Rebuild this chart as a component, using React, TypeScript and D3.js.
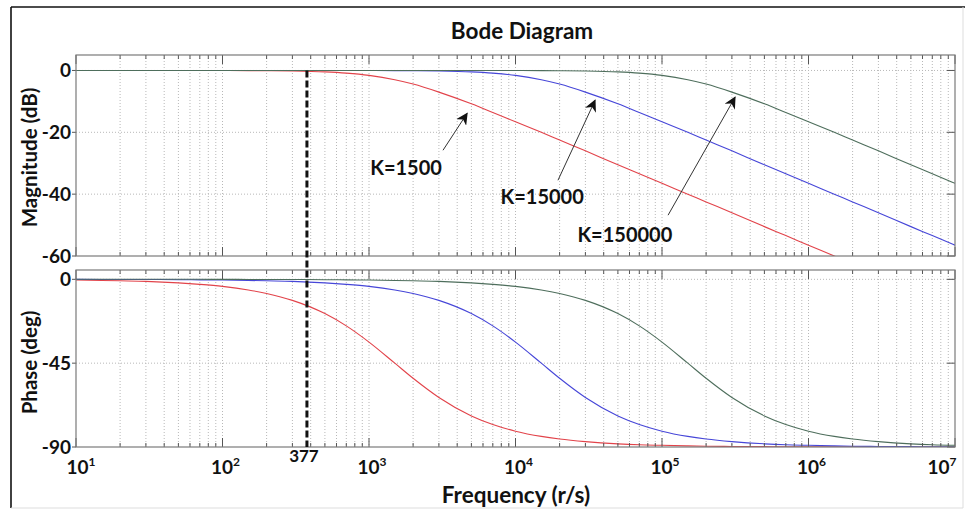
import React from "react";
import * as d3 from "d3";

const frequencies = [10,15,20,30,50,70,100,150,200,300,500,700,1000,1500,2000,3000,5000,7000,10000,15000,20000,30000,50000,70000,100000,150000,200000,300000,500000,700000,1000000,1500000,2000000,3000000,5000000,7000000,10000000];

const magK1500 = [0,0,0,0,0,-0.01, -0.02,-0.04,-0.08,-0.17,-0.46,-0.87, -1.6,-3.0,-4.4,-7.0,-10.8,-13.6, -16.6,-20.0,-22.5,-26.0,-30.5,-33.4, -36.5,-40.0,-42.5,-46.0,-50.5,-53.4, -56.5,-60.0,-62.5,-66.0,-70.5,-73.4, -76.5];
const magK15000 = [0,0,0,0,0,0, 0,0,0,0,0,-0.01, -0.02,-0.04,-0.08,-0.17,-0.46,-0.87, -1.6,-3.0,-4.4,-7.0,-10.8,-13.6, -16.6,-20.0,-22.5,-26.0,-30.5,-33.4, -36.5,-40.0,-42.5,-46.0,-50.5,-53.4, -56.5];
const magK150000 = [0,0,0,0,0,0, 0,0,0,0,0,0, 0,0,0,0,0,-0.01, -0.02,-0.04,-0.08,-0.17,-0.46,-0.87, -1.6,-3.0,-4.4,-7.0,-10.8,-13.6, -16.6,-20.0,-22.5,-26.0,-30.5,-33.4, -36.5];

const phaseK1500 = [-0.4,-0.6,-0.8,-1.1,-1.9,-2.7, -3.8,-5.7,-7.6,-11.3,-18.4,-25.0, -33.7,-45.0,-53.1,-63.4,-73.3,-77.9, -81.5,-84.3,-85.7,-87.1,-88.3,-88.8, -89.1,-89.4,-89.6,-89.7,-89.8,-89.9, -89.9,-89.9,-89.9,-90,-90,-90, -90];
const phaseK15000 = [-0.04,-0.06,-0.08,-0.1,-0.2,-0.3, -0.4,-0.6,-0.8,-1.1,-1.9,-2.7, -3.8,-5.7,-7.6,-11.3,-18.4,-25.0, -33.7,-45.0,-53.1,-63.4,-73.3,-77.9, -81.5,-84.3,-85.7,-87.1,-88.3,-88.8, -89.1,-89.4,-89.6,-89.7,-89.8,-89.9, -89.9];
const phaseK150000 = [0,0,0,0,0,0, -0.04,-0.06,-0.08,-0.1,-0.2,-0.3, -0.4,-0.6,-0.8,-1.1,-1.9,-2.7, -3.8,-5.7,-7.6,-11.3,-18.4,-25.0, -33.7,-45.0,-53.1,-63.4,-73.3,-77.9, -81.5,-84.3,-85.7,-87.1,-88.3,-88.8, -89.1];

const seriesNames = ["K=1500", "K=15000", "K=150000"];
const seriesColors = ["#e2434a", "#4646d8", "#4e6e5c"];
const magSeries = [magK1500, magK15000, magK150000];
const phaseSeries = [phaseK1500, phaseK15000, phaseK150000];

const magTicks = [0, -20, -40, -60];
const phaseTicks = [0, -45, -90];
const decadeExponents = [1, 2, 3, 4, 5, 6, 7];
const markerFrequency = 377;

// annotation anchors in data units
const annotationLabelFreq = [1790, 15200, 55800];
const annotationLabelDb = [-31.6, -41, -53.2];
const annotationTailFreq = [3200, 19500, 110000];
const annotationTailDb = [-25.8, -35.5, -46.8];
const annotationTipFreq = [4670, 34900, 315000];
const annotationTipDb = [-13.9, -9.7, -8.7];

const W = 965, H = 510;
const left = 76, right = 955;
const magTop = 55, magBottom = 256;
const phTop = 270, phBottom = 447;
const FONT = "Lato, 'Open Sans', sans-serif";

export default function App() {
  const x = d3.scaleLog().domain([10, 1e7]).range([left, right]);
  const yMag = d3.scaleLinear().domain([-60, 5]).range([magBottom, magTop]);
  const yPh = d3.scaleLinear().domain([-90, 5]).range([phBottom, phTop]);

  const minorTicks: number[] = [];
  for (let e = 1; e < 7; e++) for (let m = 2; m <= 9; m++) minorTicks.push(m * Math.pow(10, e));
  const majorTicks = decadeExponents.map((e) => Math.pow(10, e));

  const makeLine = (y: d3.ScaleLinear<number, number>) =>
    d3.line<[number, number]>().x((d) => x(d[0])).y((d) => y(d[1])).curve(d3.curveMonotoneX);

  const magLine = makeLine(yMag);
  const phLine = makeLine(yPh);

  const gridStyle = { stroke: "#b8b8b8", strokeWidth: 1, strokeDasharray: "1,2" };

  const renderPanel = (
    top: number,
    bottom: number,
    y: d3.ScaleLinear<number, number>,
    yTicks: number[],
    series: number[][],
    line: d3.Line<[number, number]>,
    clipId: string
  ) => (
    <g>
      <clipPath id={clipId}>
        <rect x={left} y={top} width={right - left} height={bottom - top} />
      </clipPath>
      <rect x={left} y={top} width={right - left} height={bottom - top} fill="#fff" />
      {[...minorTicks, ...majorTicks.slice(1, -1)].map((f, i) => (
        <line key={"gx" + i} x1={x(f)} x2={x(f)} y1={top} y2={bottom} {...gridStyle} />
      ))}
      {yTicks.slice(0, -1).map((t, i) => (
        <line key={"gy" + i} x1={left} x2={right} y1={y(t)} y2={y(t)} {...gridStyle} />
      ))}
      <g clipPath={`url(#${clipId})`}>
        {series.map((vals, si) => (
          <path
            key={si}
            d={line(frequencies.map((f, i) => [f, vals[i]] as [number, number])) || ""}
            fill="none"
            stroke={seriesColors[si]}
            strokeWidth={1.1}
          />
        ))}
      </g>
      {minorTicks.map((f, i) => (
        <g key={"mt" + i}>
          <line x1={x(f)} x2={x(f)} y1={top} y2={top + 4} stroke="#555" />
          <line x1={x(f)} x2={x(f)} y1={bottom} y2={bottom - 4} stroke="#555" />
        </g>
      ))}
      {majorTicks.map((f, i) => (
        <g key={"Mt" + i}>
          <line x1={x(f)} x2={x(f)} y1={top} y2={top + 9} stroke="#555" />
          <line x1={x(f)} x2={x(f)} y1={bottom} y2={bottom - 9} stroke="#555" />
        </g>
      ))}
      {yTicks.map((t, i) => (
        <g key={"yt" + i}>
          <line x1={left - 4} x2={left} y1={y(t)} y2={y(t)} stroke="#555" />
          <line x1={right} x2={right - 8} y1={y(t)} y2={y(t)} stroke="#555" />
          <text
            x={left - 5}
            y={y(t)}
            dy="0.36em"
            textAnchor="end"
            fontFamily={FONT}
            fontWeight="bold"
            fontSize={19}
            fill="#111"
          >
            {t}
          </text>
        </g>
      ))}
      <rect x={left} y={top} width={right - left} height={bottom - top} fill="none" stroke="#7a7a7a" strokeWidth={1.2} />
    </g>
  );

  const xLabelPos = (e: number) => {
    const px = x(Math.pow(10, e));
    if (e === decadeExponents[decadeExponents.length - 1]) return px - 13;
    if (e === decadeExponents[0]) return px + 5;
    return px + 3;
  };

  return (
    <svg
      width={W}
      height={H}
      style={{ position: "absolute", left: 0, top: 0, background: "#fff" }}
    >
      <defs>
        <marker id="arrowhead" viewBox="0 0 10 10" refX="9" refY="5" markerWidth="12" markerHeight="12" orient="auto" markerUnits="userSpaceOnUse">
          <path d="M0,0 L10,5 L0,10 L3,5 Z" fill="#111" />
        </marker>
      </defs>
      <rect x={0} y={0} width={W} height={H} fill="#fff" />
      {/* outer frame */}
      <line x1={11} x2={965} y1={7} y2={7} stroke="#111" strokeWidth={1.6} />
      <line x1={11} x2={11} y1={7} y2={508} stroke="#111" strokeWidth={1.6} />
      <line x1={963} x2={963} y1={7} y2={508} stroke="#ddd" strokeWidth={1} />
      <line x1={11} x2={963} y1={508} y2={508} stroke="#ddd" strokeWidth={1} />

      <text x={522} y={39} textAnchor="middle" fontFamily={FONT} fontWeight="bold" fontSize={22.5} fill="#111">
        Bode Diagram
      </text>

      {renderPanel(magTop, magBottom, yMag, magTicks, magSeries, magLine, "clipMag")}
      {renderPanel(phTop, phBottom, yPh, phaseTicks, phaseSeries, phLine, "clipPh")}

      {/* Y axis titles */}
      <text
        transform={`translate(37,${(magTop + magBottom) / 2 + 2}) rotate(-90)`}
        textAnchor="middle"
        fontFamily={FONT}
        fontWeight="bold"
        fontSize={20.5}
        fill="#111"
      >
        Magnitude (dB)
      </text>
      <text
        transform={`translate(37,${(phTop + phBottom) / 2 + 4}) rotate(-90)`}
        textAnchor="middle"
        fontFamily={FONT}
        fontWeight="bold"
        fontSize={20.5}
        fill="#111"
      >
        Phase (deg)
      </text>

      {/* marker line at 377 */}
      <line
        x1={x(markerFrequency)}
        x2={x(markerFrequency)}
        y1={yMag(0)}
        y2={phBottom}
        stroke="#111"
        strokeWidth={3}
        strokeDasharray="7,3"
      />
      <text x={x(markerFrequency) - 3} y={462} textAnchor="middle" fontFamily={FONT} fontWeight="bold" fontSize={17} fill="#111">
        {markerFrequency}
      </text>

      {/* x tick labels */}
      {decadeExponents.map((e) => (
        <text
          key={"xl" + e}
          x={xLabelPos(e)}
          y={474}
          textAnchor="middle"
          fontFamily={FONT}
          fontWeight="bold"
          fontSize={19}
          fill="#111"
        >
          10
          <tspan dy={-8} fontSize={12}>
            {e}
          </tspan>
        </text>
      ))}
      <text x={516} y={503} textAnchor="middle" fontFamily={FONT} fontWeight="bold" fontSize={22.5} fill="#111">
        Frequency (r/s)
      </text>

      {/* annotations */}
      {seriesNames.map((name, i) => (
        <g key={"ann" + i}>
          <line
            x1={x(annotationTailFreq[i])}
            y1={yMag(annotationTailDb[i])}
            x2={x(annotationTipFreq[i])}
            y2={yMag(annotationTipDb[i])}
            stroke="#333"
            strokeWidth={1}
            markerEnd="url(#arrowhead)"
          />
          <text
            x={x(annotationLabelFreq[i])}
            y={yMag(annotationLabelDb[i])}
            dy="0.35em"
            textAnchor="middle"
            fontFamily={FONT}
            fontWeight="bold"
            fontSize={20}
            fill="#111"
          >
            {name}
          </text>
        </g>
      ))}
    </svg>
  );
}
